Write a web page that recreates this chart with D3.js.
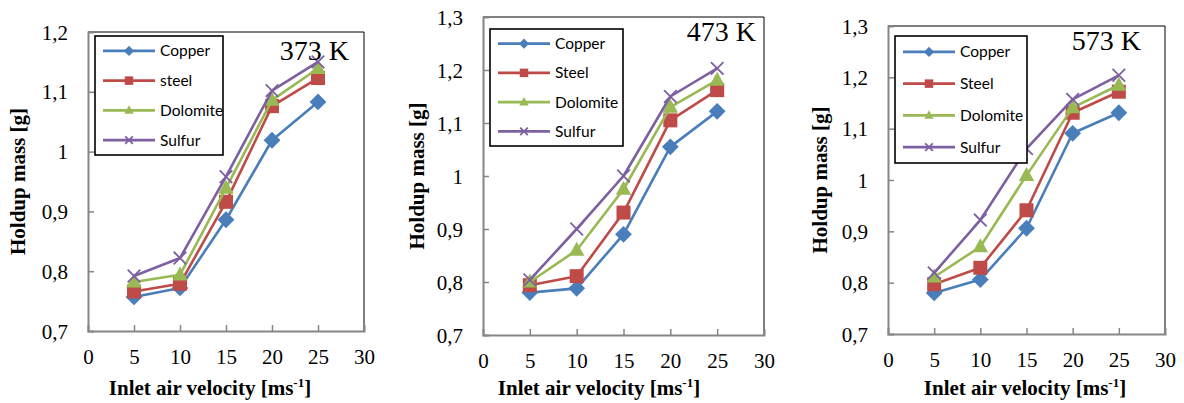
<!DOCTYPE html>
<html>
<head>
<meta charset="utf-8">
<script src="https://cdn.jsdelivr.net/npm/d3@7"></script>
<style>
  body { margin: 0; background: #fff; }
  svg { display: block; }
</style>
</head>
<body>
<svg width="1184" height="403"></svg>
<script>
// inlet air velocity [m/s]
const velocity = [5, 10, 15, 20, 25]
const temps = ["373 K", "473 K", "573 K"]
const xTicks = [0, 5, 10, 15, 20, 25, 30]
const yTicks = [
  [0.7, 0.8, 0.9, 1.0, 1.1, 1.2],
  [0.7, 0.8, 0.9, 1.0, 1.1, 1.2, 1.3],
  [0.7, 0.8, 0.9, 1.0, 1.1, 1.2, 1.3]
]

// holdup mass [g], one row per temperature
const copper = [
  [0.757, 0.772, 0.886, 1.019, 1.083],
  [0.780, 0.788, 0.890, 1.055, 1.122],
  [0.780, 0.806, 0.906, 1.091, 1.131]
]
const steel = [
  [0.766, 0.779, 0.916, 1.076, 1.123],
  [0.794, 0.811, 0.931, 1.105, 1.162],
  [0.797, 0.829, 0.941, 1.131, 1.172]
]
const dolomite = [
  [0.782, 0.794, 0.939, 1.086, 1.139],
  [0.800, 0.860, 0.975, 1.130, 1.181],
  [0.811, 0.870, 1.009, 1.141, 1.185]
]
const sulfur = [
  [0.792, 0.822, 0.958, 1.102, 1.150],
  [0.804, 0.900, 1.000, 1.150, 1.203],
  [0.819, 0.922, 1.061, 1.157, 1.204]
]
const legendNames = [
  ["Copper", "steel", "Dolomite", "Sulfur"],
  ["Copper", "Steel", "Dolomite", "Sulfur"],
  ["Copper", "Steel", "Dolomite", "Sulfur"]
]

const colors = ["#4a7ebb", "#be4b48", "#98b954", "#7d60a0"]
const symbols = ["diamond", "square", "triangle", "cross"]

// panel placement on the page
const panels = [
  { left: 88, right: 364, top: 32, bottom: 331, yTitleX: 18, xTitleX: 210,
    legend: [95, 36, 223, 155], tempX: 349, tempY: 60 },
  { left: 483, right: 764, top: 17, bottom: 335, yTitleX: 417, xTitleX: 599,
    legend: [490, 29, 623, 146], tempX: 756, tempY: 41 },
  { left: 888, right: 1165, top: 26, bottom: 334, yTitleX: 820, xTitleX: 1025,
    legend: [895, 36, 1027, 163], tempX: 1141, tempY: 50 }
]

const svg = d3.select("svg")
const fmt = d => d3.format(".1~f")(d).replace(".", ",")

function marker(g, type, x, y, s, color) {
  if (type == "diamond") {
    g.append("path")
      .attr("d", `M${x},${y - s * 0.6}L${x + s * 0.6},${y}L${x},${y + s * 0.6}L${x - s * 0.6},${y}Z`)
      .attr("fill", color)
  } else if (type == "square") {
    g.append("rect")
      .attr("x", x - s / 2).attr("y", y - s / 2)
      .attr("width", s).attr("height", s)
      .attr("fill", color)
  } else if (type == "triangle") {
    g.append("path")
      .attr("d", `M${x},${y - s * 0.6}L${x + s * 0.55},${y + s * 0.4}L${x - s * 0.55},${y + s * 0.4}Z`)
      .attr("fill", color)
  } else {
    const h = s * 0.45
    g.append("path")
      .attr("d", `M${x - h},${y - h}L${x + h},${y + h}M${x - h},${y + h}L${x + h},${y - h}`)
      .attr("stroke", color).attr("stroke-width", 1.8).attr("fill", "none")
  }
}

panels.forEach((p, i) => {
  const g = svg.append("g")
  const yT = yTicks[i]

  const x = d3.scaleLinear().domain([0, 30]).range([p.left, p.right])
  const y = d3.scaleLinear().domain([0.7, d3.max(yT)]).range([p.bottom, p.top])

  // frame: top and right borders black
  g.append("path")
    .attr("d", `M${p.left},${p.top}H${p.right}V${p.bottom}`)
    .attr("fill", "none").attr("stroke", "#000").attr("stroke-width", 1)

  const xAxis = g.append("g")
    .attr("transform", `translate(0,${p.bottom})`)
    .call(d3.axisBottom(x).tickValues(xTicks).tickSize(-6).tickPadding(18).tickFormat(d => d))
  const yAxis = g.append("g")
    .attr("transform", `translate(${p.left},0)`)
    .call(d3.axisLeft(y).tickValues(yT).tickSize(-6).tickPadding(20).tickFormat(fmt))

  ;[xAxis, yAxis].forEach(a => {
    a.select(".domain").attr("stroke", "#868686").attr("stroke-width", 2)
    a.selectAll(".tick line").attr("stroke", "#868686").attr("stroke-width", 1.5)
    a.selectAll(".tick text")
      .attr("fill", "#000")
      .style("font-family", "'Liberation Serif', 'Times New Roman', serif")
      .style("font-size", "21px")
  })
  xAxis.selectAll(".tick").filter(d => d == 0 || d == 30).select("line").remove()
  yAxis.selectAll(".tick").filter((d, k) => k == 0 || k == yT.length - 1).select("line").remove()
  yAxis.selectAll(".tick text").attr("dy", "0.34em")

  // series
  const series = [copper[i], steel[i], dolomite[i], sulfur[i]]
  const line = d3.line().x((d, k) => x(velocity[k])).y(d => y(d))
  series.forEach((vals, s) => {
    g.append("path")
      .datum(vals)
      .attr("d", line)
      .attr("fill", "none")
      .attr("stroke", colors[s])
      .attr("stroke-width", 2.6)
      .attr("stroke-linejoin", "round")
    vals.forEach((v, k) => marker(g, symbols[s], x(velocity[k]), y(v), 14, colors[s]))
  })

  // legend
  const [lx0, ly0, lx1, ly1] = p.legend
  g.append("rect")
    .attr("x", lx0).attr("y", ly0)
    .attr("width", lx1 - lx0).attr("height", ly1 - ly0)
    .attr("fill", "#fff").attr("stroke", "#000").attr("stroke-width", 1.6)
  const rowH = (ly1 - ly0) / 4
  legendNames[i].forEach((name, s) => {
    const cy = ly0 + rowH * (s + 0.5)
    g.append("line")
      .attr("x1", lx0 + 8).attr("x2", lx0 + 60)
      .attr("y1", cy).attr("y2", cy)
      .attr("stroke", colors[s]).attr("stroke-width", 2.6)
    marker(g, symbols[s], lx0 + 34, cy, 8.5, colors[s])
    g.append("text")
      .attr("x", lx0 + 65).attr("y", cy)
      .attr("dy", "0.35em")
      .style("font-family", "Lato, 'Open Sans', sans-serif")
      .style("font-size", "15.5px")
      .text(name)
  })

  // temperature label
  g.append("text")
    .attr("x", p.tempX).attr("y", p.tempY)
    .attr("text-anchor", "end")
    .style("font-family", "'Liberation Serif', 'Times New Roman', serif")
    .style("font-size", "28px")
    .text(temps[i])

  // axis titles
  const xt = g.append("text")
    .attr("x", p.xTitleX).attr("y", 395)
    .attr("text-anchor", "middle")
    .style("font-family", "'Liberation Serif', 'Times New Roman', serif")
    .style("font-size", "21px").style("font-weight", "bold")
  xt.append("tspan").text("Inlet air velocity [ms")
  xt.append("tspan").attr("dy", -8).style("font-size", "13px").text("-1")
  xt.append("tspan").attr("dy", 8).text("]")

  g.append("text")
    .attr("transform", `translate(${p.yTitleX + 7},${(p.top + p.bottom) / 2}) rotate(-90)`)
    .attr("text-anchor", "middle")
    .style("font-family", "'Liberation Serif', 'Times New Roman', serif")
    .style("font-size", "21px").style("font-weight", "bold")
    .text("Holdup mass [g]")
})
</script>
</body>
</html>
